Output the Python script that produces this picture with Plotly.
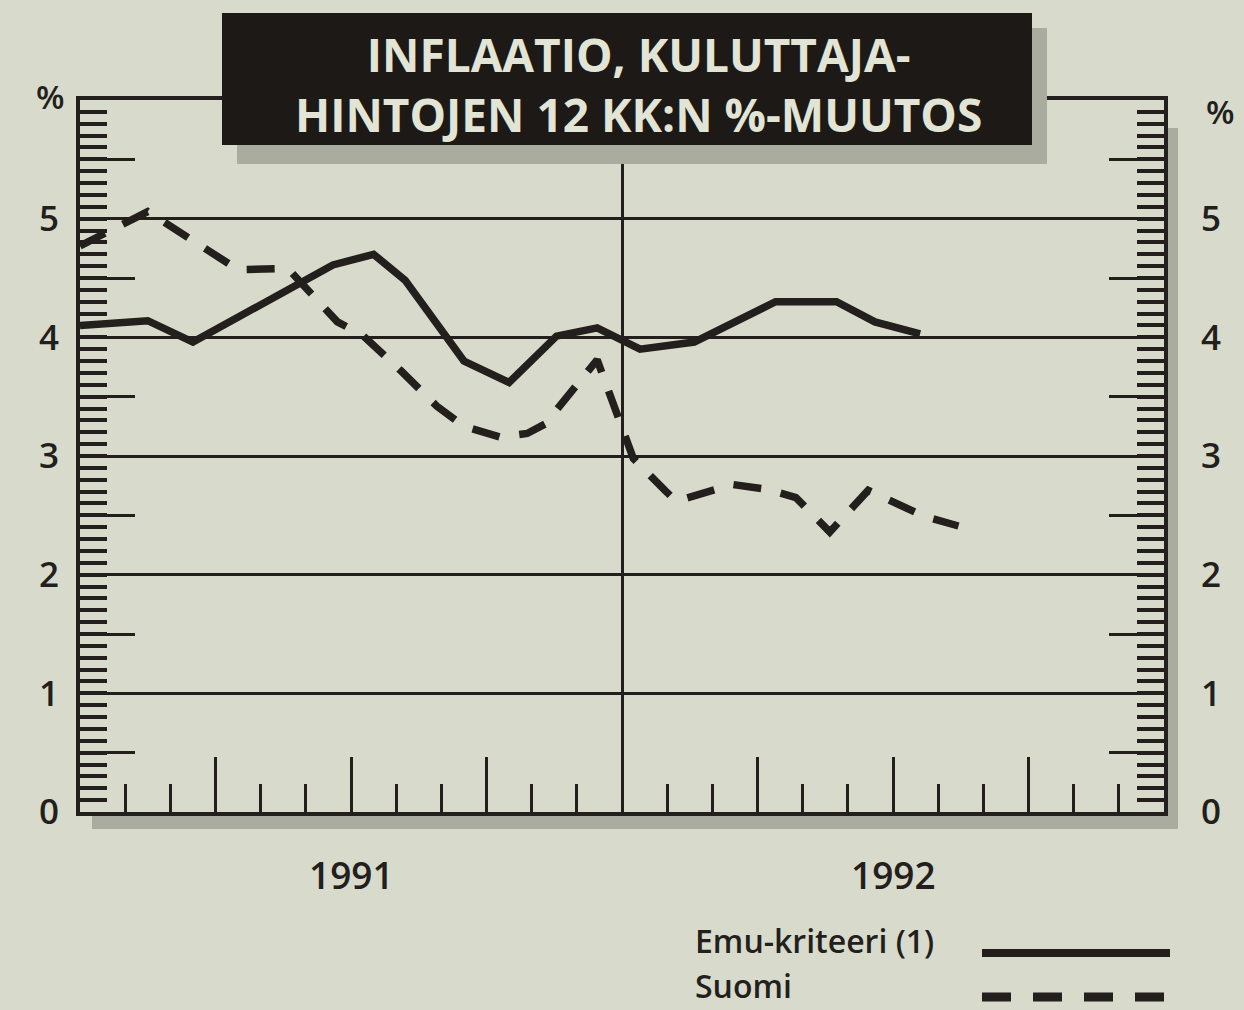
import plotly.graph_objects as go

# ---------------- data (months from start of 1991) ----------------
emu_x = [0, 1.5, 2.5, 4.87, 5.6, 6.5, 7.2, 8.5, 9.5, 10.55, 11.45, 12.4, 13.6, 15.4, 16.75, 17.6, 18.6]
emu_y = [4.10, 4.14, 3.96, 4.46, 4.61, 4.70, 4.48, 3.80, 3.62, 4.01, 4.08, 3.90, 3.96, 4.30, 4.30, 4.13, 4.03]

suomi_x = [0, 1.5, 3.5, 4.6, 5.7, 6.25, 7.1, 7.9, 8.5, 9.3, 9.9, 10.3, 11.45,
           12.25, 12.95, 13.2, 14.45, 15.2, 15.85, 16.6, 17.45, 17.75, 18.7, 19.45]
suomi_y = [4.77, 5.06, 4.57, 4.58, 4.13, 4.02, 3.72, 3.42, 3.25, 3.16, 3.19, 3.27, 3.81,
           2.98, 2.71, 2.62, 2.76, 2.72, 2.65, 2.36, 2.71, 2.66, 2.49, 2.41]

series_names = ["Emu-kriteeri (1)", "Suomi"]
years = ["1991", "1992"]
year_centers = [6, 18]
month_ticks = [1, 2, 4, 5, 7, 8, 10, 11, 13, 14, 16, 17, 19, 20, 22, 23]
quarter_ticks = [3, 6, 9, 15, 18, 21]
year_boundary = [12]
y_labels = [0, 1, 2, 3, 4, 5]
half_ticks = [0.5, 1.5, 2.5, 3.5, 4.5, 5.5]
title_lines = ["INFLAATIO, KULUTTAJA-", "HINTOJEN 12 KK:N %-MUUTOS"]

# ---------------- style ----------------
BG = "rgb(216,219,204)"
INK = "#231f1c"
SHADOW = "rgb(170,172,160)"
TITLE_TXT = "rgb(226,228,214)"
FONT = "Open Sans"
WT = 600

fig = go.Figure()

fig.add_trace(go.Scatter(x=emu_x, y=emu_y, mode="lines", name=series_names[0],
                         line=dict(color=INK, width=7.5), showlegend=False))
fig.add_trace(go.Scatter(x=suomi_x, y=suomi_y, mode="lines", name=series_names[1],
                         line=dict(color=INK, width=7.5, dash="28px,20px"), showlegend=False))
# empty helper traces so overlay axes are drawn
fig.add_trace(go.Scatter(x=[], y=[], xaxis="x2", yaxis="y2", showlegend=False))
fig.add_trace(go.Scatter(x=[], y=[], xaxis="x3", yaxis="y3", showlegend=False))
fig.add_trace(go.Scatter(x=[], y=[], xaxis="x", yaxis="y4", showlegend=False))

XR = [0, 24]
YR = [0, 6]
TICKFONT = dict(size=35, family=FONT, color=INK, weight=WT)

fig.update_layout(
    width=1244, height=1010,
    margin=dict(l=80, r=80, t=100, b=198),
    paper_bgcolor=BG, plot_bgcolor=BG,
    font=dict(family=FONT, color=INK),
    xaxis=dict(range=XR, tickmode="array", tickvals=month_ticks, ticks="inside",
               ticklen=28, tickwidth=2.5, tickcolor=INK, showticklabels=False,
               showline=True, linewidth=4, linecolor=INK, mirror=True,
               showgrid=False, zeroline=False, fixedrange=True),
    xaxis2=dict(range=XR, overlaying="x", anchor="y", side="bottom", tickmode="array",
                tickvals=quarter_ticks, ticks="inside", ticklen=55, tickwidth=2.5,
                tickcolor=INK, showticklabels=False, showline=False, showgrid=False,
                zeroline=False),
    xaxis3=dict(range=XR, overlaying="x", anchor="y", side="bottom", tickmode="array",
                tickvals=year_boundary, ticks="", showticklabels=False, showline=False,
                showgrid=True, gridcolor=INK, gridwidth=2.5, zeroline=False),
    yaxis=dict(range=YR, tickmode="array", tickvals=y_labels, ticks="inside",
               ticklen=27, tickwidth=3.5, tickcolor=INK,
               minor=dict(tickmode="linear", tick0=0, dtick=0.1, ticks="inside",
                          ticklen=27, tickwidth=3.5, tickcolor=INK, showgrid=False),
               showgrid=True, gridcolor=INK, gridwidth=2.5,
               showline=True, linewidth=4, linecolor=INK, zeroline=False,
               tickfont=TICKFONT, ticklabelstandoff=10),
    yaxis2=dict(range=YR, overlaying="y", anchor="x", side="right", tickmode="array",
                tickvals=y_labels, ticks="inside", ticklen=27, tickwidth=3.5, tickcolor=INK,
                minor=dict(tickmode="linear", tick0=0, dtick=0.1, ticks="inside",
                           ticklen=27, tickwidth=3.5, tickcolor=INK, showgrid=False),
                showgrid=False, showline=True, linewidth=4, linecolor=INK, zeroline=False,
                tickfont=TICKFONT, ticklabelstandoff=26),
    yaxis3=dict(range=YR, overlaying="y", anchor="x", side="left", tickmode="array",
                tickvals=half_ticks, ticks="inside", ticklen=55, tickwidth=2.5,
                tickcolor=INK, showticklabels=False, showgrid=False, showline=False,
                zeroline=False),
    yaxis4=dict(range=YR, overlaying="y", anchor="x", side="right", tickmode="array",
                tickvals=half_ticks, ticks="inside", ticklen=55, tickwidth=2.5,
                tickcolor=INK, showticklabels=False, showgrid=False, showline=False,
                zeroline=False),
)

W, H = 1084, 712
def px(xp):
    return (xp - 80) / W
def py(yp):
    return (812 - yp) / H

shapes = []
# frame shadows
shapes.append(dict(type="rect", xref="paper", yref="paper", x0=px(92), x1=px(1178),
                   y0=py(815), y1=py(829), fillcolor=SHADOW, line=dict(width=0), layer="below"))
shapes.append(dict(type="rect", xref="paper", yref="paper", x0=px(1166), x1=px(1178),
                   y0=py(829), y1=py(128), fillcolor=SHADOW, line=dict(width=0), layer="below"))
# title box shadow + box
shapes.append(dict(type="rect", xref="paper", yref="paper", x0=px(237), x1=px(1047),
                   y0=py(164), y1=py(28), fillcolor=SHADOW, line=dict(width=0), layer="above"))
shapes.append(dict(type="rect", xref="paper", yref="paper", x0=px(222), x1=px(1032),
                   y0=py(145), y1=py(13), fillcolor="#1c1917", line=dict(width=0), layer="above"))
# legend samples
shapes.append(dict(type="line", xref="paper", yref="paper", x0=px(982), x1=px(1170),
                   y0=py(953), y1=py(953), line=dict(color=INK, width=8)))
shapes.append(dict(type="line", xref="paper", yref="paper", x0=px(982), x1=px(1170),
                   y0=py(997), y1=py(997), line=dict(color=INK, width=9, dash="29px,22px")))
fig.update_layout(shapes=shapes)

ann = []
ann.append(dict(text="<b>%s<br>%s</b>" % (title_lines[0], title_lines[1]),
                xref="paper", yref="paper", x=px(638), y=py(84), showarrow=False,
                xanchor="center", yanchor="middle", align="center",
                font=dict(size=46, color=TITLE_TXT, family=FONT)))
ann.append(dict(text="%", xref="paper", yref="paper", x=px(50), y=py(96), showarrow=False,
                xanchor="center", yanchor="middle",
                font=dict(size=33, color=INK, family=FONT, weight=WT)))
ann.append(dict(text="%", xref="paper", yref="paper", x=px(1220), y=py(111), showarrow=False,
                xanchor="center", yanchor="middle",
                font=dict(size=33, color=INK, family=FONT, weight=WT)))
for yr, xc in zip(years, year_centers):
    ann.append(dict(text=yr, xref="x", yref="paper", x=xc, y=py(874), showarrow=False,
                    xanchor="center", yanchor="middle",
                    font=dict(size=37, color=INK, family=FONT, weight=WT)))
ann.append(dict(text=series_names[0], xref="paper", yref="paper", x=px(693), y=py(941),
                showarrow=False, xanchor="left", yanchor="middle",
                font=dict(size=32, color=INK, family=FONT, weight=WT)))
ann.append(dict(text=series_names[1], xref="paper", yref="paper", x=px(693), y=py(986),
                showarrow=False, xanchor="left", yanchor="middle",
                font=dict(size=32, color=INK, family=FONT, weight=WT)))
fig.update_layout(annotations=ann)

fig.write_html("out.html", config={"displayModeBar": False},
               post_script="document.body.style.margin='0';document.body.style.overflow='hidden';")
